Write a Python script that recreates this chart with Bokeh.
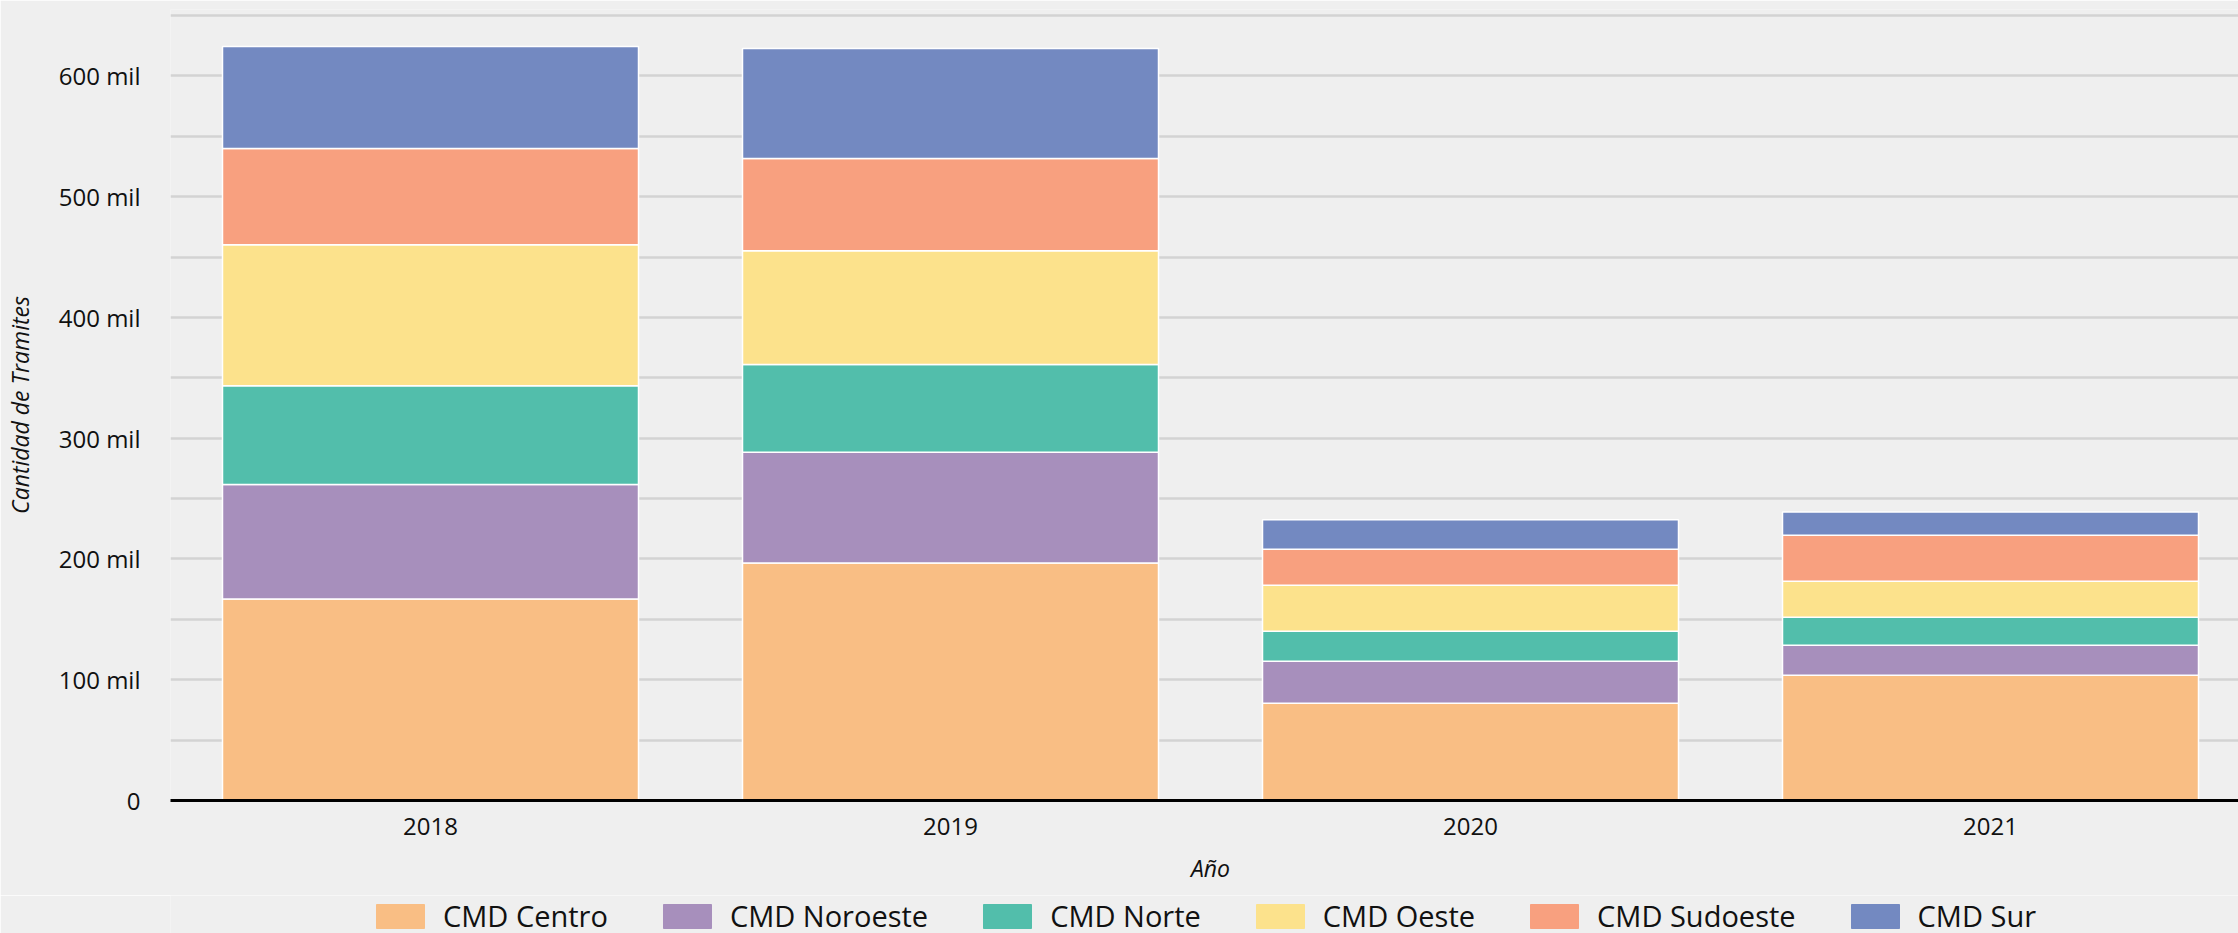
from bokeh.plotting import figure
from bokeh.layouts import column
from bokeh.models import (Range1d, FixedTicker, Legend, LegendItem, ColumnDataSource)
from bokeh.embed import file_html
from bokeh.resources import INLINE

years = [2018, 2019, 2020, 2021]
series = ["CMD Centro", "CMD Noroeste", "CMD Norte", "CMD Oeste", "CMD Sudoeste", "CMD Sur"]
centro = [166800, 196700, 80600, 103800]
noroeste = [94800, 91600, 34800, 24800]
norte = [81900, 72700, 24800, 23200]
oeste = [116800, 94300, 38100, 29800]
sudoeste = [79700, 76400, 29800, 38100]
sur = [84400, 91100, 24300, 19300]
colors = ["#F9BE84", "#A78FBC", "#52BEAB", "#FCE28C", "#F8A07F", "#7389C1"]
y_tick_values = [0, 100000, 200000, 300000, 400000, 500000, 600000]
y_tick_labels = ["0", "100 mil", "200 mil", "300 mil", "400 mil", "500 mil", "600 mil"]
grid_values = [0, 50000, 100000, 150000, 200000, 250000, 300000, 350000,
               400000, 450000, 500000, 550000, 600000, 650000]

BG = "#EFEFEF"
FONT = "Open Sans"

keys = ["c", "no", "n", "o", "s", "su"]
src = ColumnDataSource(dict(x=years, c=centro, no=noroeste, n=norte, o=oeste, s=sudoeste, su=sur))

p = figure(frame_width=2080, frame_height=791, output_backend="svg", toolbar_location=None,
           x_range=Range1d(2017.5, 2021.5), y_range=Range1d(0, 655000),
           min_border_left=160, min_border_right=0, min_border_top=9, min_border_bottom=95,
           background_fill_color=BG, border_fill_color=BG, outline_line_color=None)

rs = p.vbar_stack(keys, x="x", width=0.8, source=src, color=colors,
                  line_color="white", line_width=1.5)

# grid
p.xgrid.grid_line_color = None
p.ygrid.ticker = FixedTicker(ticks=grid_values)
p.ygrid.grid_line_color = "#D3D3D3"
p.ygrid.grid_line_width = 2.5

# y axis
p.yaxis.ticker = FixedTicker(ticks=y_tick_values)
p.yaxis.major_label_overrides = {v: l for v, l in zip(y_tick_values, y_tick_labels)}
p.yaxis.axis_line_color = None
p.yaxis.major_tick_line_color = None
p.yaxis.minor_tick_line_color = None
p.yaxis.major_label_text_font = FONT
p.yaxis.major_label_text_font_size = "24px"
p.yaxis.major_label_text_color = "#111111"
p.yaxis.major_label_standoff = 24
p.yaxis.axis_label = "Cantidad de Tramites"
p.yaxis.axis_label_text_font = FONT
p.yaxis.axis_label_text_font_style = "italic"
p.yaxis.axis_label_text_font_size = "23px"
p.yaxis.axis_label_text_color = "#111111"
p.yaxis.axis_label_standoff = 20

# x axis
p.xaxis.ticker = FixedTicker(ticks=years)
p.xaxis.major_label_overrides = {y: str(y) for y in years}
p.xaxis.axis_line_color = "black"
p.xaxis.axis_line_width = 3
p.xaxis.major_tick_line_color = None
p.xaxis.minor_tick_line_color = None
p.xaxis.major_label_text_font = FONT
p.xaxis.major_label_text_font_size = "24px"
p.xaxis.major_label_text_color = "#111111"
p.xaxis.major_label_standoff = 11
p.xaxis.axis_label = "Año"
p.xaxis.axis_label_text_font = FONT
p.xaxis.axis_label_text_font_style = "italic"
p.xaxis.axis_label_text_font_size = "23px"
p.xaxis.axis_label_text_color = "#111111"
p.xaxis.axis_label_standoff = 14

# legend strip below the chart (legend swatches use the same series colours)
pl = figure(width=2240, height=60, output_backend="svg", toolbar_location=None,
            x_range=Range1d(0, 1), y_range=Range1d(0, 1),
            x_axis_type=None, y_axis_type=None,
            min_border_left=0, min_border_right=0, min_border_top=0, min_border_bottom=0,
            background_fill_color=BG, border_fill_color=BG, outline_line_color=None)
pl.xgrid.grid_line_color = None
pl.ygrid.grid_line_color = None
items = []
for name, c in zip(series, colors):
    # a single mark kept outside the visible range: only its legend swatch shows
    r = pl.vbar(x=[5], top=[5], bottom=[4], width=0.1, color=c)
    items.append(LegendItem(label=name, renderers=[r]))
legend = Legend(items=items, orientation="horizontal", location=(200, 20),
                glyph_width=60, glyph_height=30, label_standoff=13, spacing=49,
                label_text_font=FONT, label_text_font_size="29px", label_text_color="#111111",
                background_fill_alpha=0, border_line_alpha=0, padding=0, margin=0)
pl.add_layout(legend, "center")

layout = column(p, pl, spacing=0)
html = file_html(layout, INLINE)
html = html.replace("<body>", '<body style="background:%s;overflow:hidden">' % BG, 1)
open("out.html", "w").write(html)
